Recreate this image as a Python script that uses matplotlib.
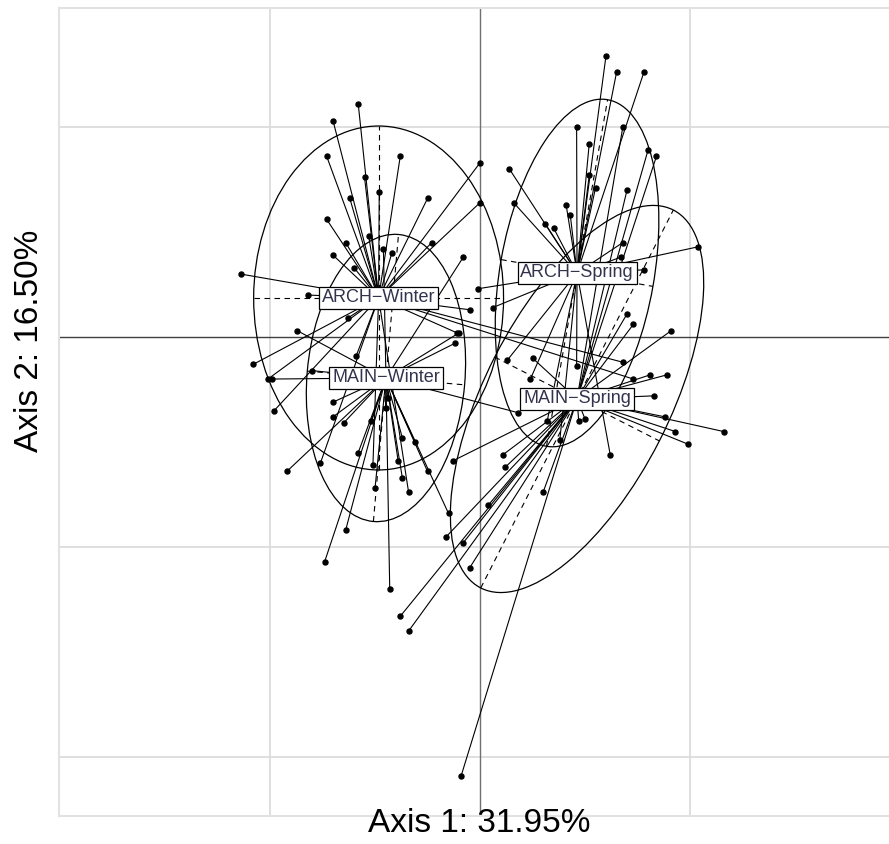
import matplotlib
matplotlib.use("Agg")
import matplotlib.pyplot as plt
import numpy as np
from matplotlib.patches import Ellipse

plt.rcParams['font.family'] = ['Liberation Sans', 'DejaVu Sans']

# group names as printed on the plot
groups = ["ARCH\u2212Winter", "MAIN\u2212Winter", "ARCH\u2212Spring", "MAIN\u2212Spring"]

# scores on the two first axes (grid step = 1)
arch_winter_x = [-0.70, -0.58, -0.73, -0.38, -0.55, 0.00, 0.00, -0.48, -0.25, -0.62,
                 -0.73, -0.64, -0.53, -0.23, -0.70, -1.14, -0.82, -0.11, -0.05, 0.68,
                 0.73, -0.63, -1.08, -1.01, -0.98, -0.59, -0.76, -0.34, -0.51, -0.42,
                 -0.60]
arch_winter_y = [1.03, 1.11, 0.86, 0.86, 0.76, 0.83, 0.64, 0.69, 0.66, 0.66,
                 0.56, 0.45, 0.48, 0.45, 0.39, 0.30, 0.20, 0.02, 0.13, -0.12,
                 -0.20, 0.09, -0.13, -0.20, -0.35, -0.09, -0.60, -0.74, -0.61, 0.40,
                 0.33]

main_winter_x = [-0.99, -0.92, -0.70, -0.70, -0.65, -0.58, -0.45, -0.44, -0.37, -0.39,
                 -0.37, -0.50, -0.25, -0.15, -0.64, -0.74, -0.43, -0.12, -0.10, 0.18,
                 -0.46, -0.08, -0.87, -0.80, -0.52, -0.31]
main_winter_y = [-0.20, -0.64, -0.31, -0.38, -0.41, -0.55, -0.34, -0.29, -0.48, -0.59,
                 -0.67, -0.72, -0.64, -0.84, -0.92, -1.07, -1.20, -0.03, 0.02, -0.36,
                 0.42, 0.38, 0.03, -0.16, -0.40, -0.50]

arch_spring_x = [0.60, 0.65, 0.78, 0.46, 0.14, 0.52, 0.55, 0.16, 0.41, 0.31,
                 0.35, 0.68, 0.67, 1.04, 0.78, -0.01, 0.06, 0.13, 0.46, 0.32,
                 0.38, 0.24, 0.62, 0.52, 0.43]
arch_spring_y = [1.34, 1.26, 1.26, 1.00, 0.80, 0.77, 0.71, 0.64, 0.63, 0.54,
                 0.52, 0.45, 0.38, 0.43, 0.32, 0.23, 0.14, -0.11, -0.14, -0.40,
                 -0.49, -0.20, -0.56, 0.92, 0.58]

main_spring_x = [0.81, 0.89, 0.83, 0.88, 0.93, 0.99, 1.16, 0.50, 0.47, 0.11,
                 0.12, 0.30, -0.13, -0.16, -0.05, -0.38, -0.34, -0.09, 0.80, 0.84,
                 0.68, 0.70, 0.91, 0.73, 0.70, 0.25, 0.04, -0.08]
main_spring_y = [-0.18, -0.18, -0.28, -0.38, -0.45, -0.51, -0.45, -0.39, -0.40, -0.56,
                 -0.62, -0.74, -0.59, -0.95, -1.10, -1.33, -1.40, -2.09, 0.89, 0.86,
                 1.00, 0.70, 0.03, 0.06, 0.11, -0.10, -0.80, -0.98]

# class centroids and ellipses (half widths, half heights, tilt in degrees)
centers_x = [-0.483, -0.448, 0.462, 0.462]
centers_y = [0.186, -0.195, 0.305, -0.295]
ell_half_w = [0.595, 0.376, 0.367, 0.44]
ell_half_h = [0.819, 0.686, 0.838, 1.01]
ell_angle = [0, -5, -10, -27]

xs = [arch_winter_x, main_winter_x, arch_spring_x, main_spring_x]
ys = [arch_winter_y, main_winter_y, arch_spring_y, main_spring_y]

fig = plt.figure(figsize=(8.89, 8.44), dpi=100)
ax = fig.add_axes([59 / 889, 28 / 844, 841 / 889, 808 / 844])
ax.set_xlim(-2.005, 2.0)
ax.set_ylim(-2.281, 1.567)
ax.set_xticks([])
ax.set_yticks([])
for s in ax.spines.values():
    s.set_color("#e2e2e2")
    s.set_linewidth(1.5)

# grid and origin
for g in [-1, 1]:
    ax.axvline(g, color="#dcdcdc", lw=1.3, zorder=0)
for g in [1, -1, -2]:
    ax.axhline(g, color="#dcdcdc", lw=1.3, zorder=0)
ax.axvline(0, color="#707070", lw=1.0, zorder=1)
ax.axhline(0, color="#404040", lw=1.0, zorder=1)

for i in range(len(groups)):
    cx, cy = centers_x[i], centers_y[i]
    for px, py in zip(xs[i], ys[i]):
        ax.plot([cx, px], [cy, py], color="black", lw=0.8, zorder=2)
    ax.plot(xs[i], ys[i], "o", color="black", ms=3.6, zorder=3)

    e = Ellipse((cx, cy), 2 * ell_half_w[i], 2 * ell_half_h[i], angle=ell_angle[i],
                fill=False, edgecolor="black", lw=0.9, zorder=3)
    ax.add_patch(e)
    # ellipse axes, dashed
    t = np.deg2rad(ell_angle[i])
    ux, uy = -np.sin(t) * ell_half_h[i], np.cos(t) * ell_half_h[i]
    vx, vy = np.cos(t) * ell_half_w[i], np.sin(t) * ell_half_w[i]
    ax.plot([cx - ux, cx + ux], [cy - uy, cy + uy], color="black", lw=0.8,
            ls=(0, (5, 4)), zorder=2)
    ax.plot([cx - vx, cx + vx], [cy - vy, cy + vy], color="black", lw=0.8,
            ls=(0, (5, 4)), zorder=2)

    ax.text(cx, cy, groups[i], ha="center", va="center", fontsize=13, color="#33334d",
            zorder=5, bbox=dict(boxstyle="square,pad=0.15", fc="white", ec="black", lw=0.9))

fig.text(479 / 889, 1 - 823 / 844, "Axis 1: 31.95%", ha="center", va="center", fontsize=24)
fig.text(30 / 889, 1 - 341 / 844, "Axis 2: 16.50%", ha="center", va="center",
         fontsize=24, rotation=90)

fig.savefig("out.png", dpi=100)
